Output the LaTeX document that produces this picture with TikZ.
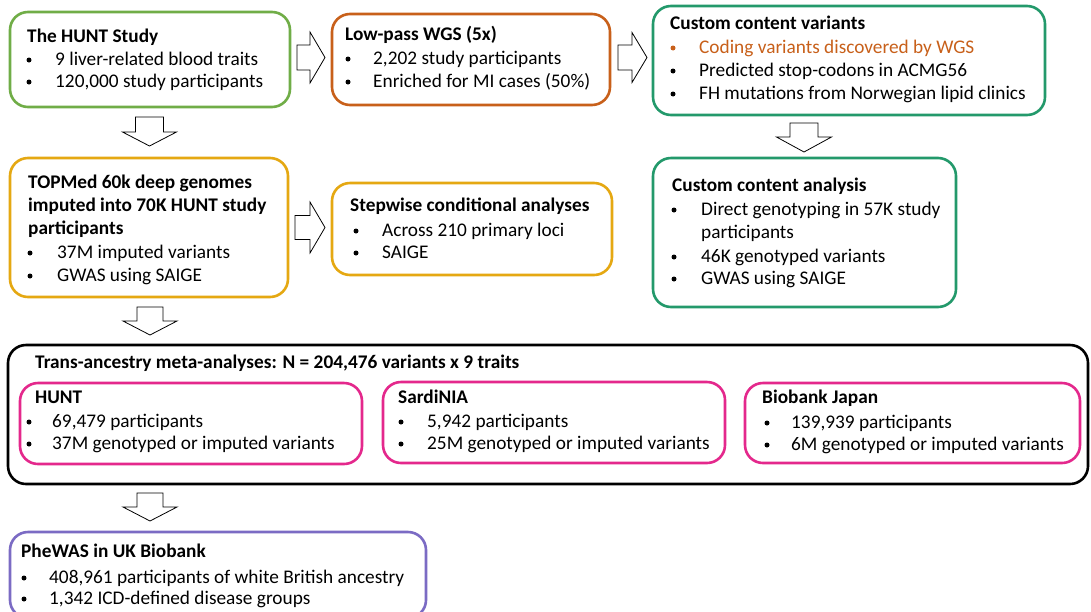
\documentclass[tikz,border=0pt]{standalone}
\usepackage{fontspec}
\setmainfont{Carlito}
\definecolor{cgreen}{HTML}{70AD47}
\definecolor{corange}{HTML}{C8601A}
\definecolor{cteal}{HTML}{23996B}
\definecolor{cyellow}{HTML}{E5A812}
\definecolor{cpink}{HTML}{E4288C}
\definecolor{cpurple}{HTML}{7B6BC4}
\newcommand{\fs}{\fontsize{19.3}{23}\selectfont}
\tikzset{
  bx/.style={draw=#1, line width=2.6pt, rounded corners=18pt, inner sep=0pt},
  tt/.style={anchor=base west, inner sep=0pt, font=\fs\bfseries},
  tx/.style={anchor=base west, inner sep=0pt, font=\fs},
  bu/.style={circle, fill=#1, inner sep=0pt, minimum size=5pt},
  bu/.default=black,
  blk/.style={draw=black, line width=0.8pt, fill=white, line join=miter}
}
% bullet item: name, bullet x, text x, baseline y, text
\newcommand{\bitem}[5]{%
  \node[bu] (#1-b) at (#2,{#4-5.5}) {};
  \node[tx] (#1) at (#3,#4) {#5};}
% right block arrow: left x, centre y, length, shaft half, head half, head length
\newcommand{\rarr}[6]{%
  \draw[blk] (#1,#2-#4) -- ({#1+#3-#6},#2-#4) -- ({#1+#3-#6},#2-#5) -- ({#1+#3},#2)
    -- ({#1+#3-#6},#2+#5) -- ({#1+#3-#6},#2+#4) -- (#1,#2+#4) -- cycle;}
% down block arrow: top y, centre x, length, shaft half, head half, head length
\newcommand{\darr}[6]{%
  \draw[blk] (#2-#4,#1) -- (#2-#4,{#1+#3-#6}) -- (#2-#5,{#1+#3-#6}) -- (#2,{#1+#3})
    -- (#2+#5,{#1+#3-#6}) -- (#2+#4,{#1+#3-#6}) -- (#2+#4,#1) -- cycle;}
\begin{document}
\begin{tikzpicture}[x=1pt,y=-1pt]
\clip (0,0) rectangle (1091,611);
\fill[white] (0,0) rectangle (1091,611);

% boxes
\node[bx=cgreen, minimum width=280pt, minimum height=95pt] (hunt) at (150,59.5) {};
\node[bx=corange, minimum width=278pt, minimum height=91pt] (wgs) at (471,59.5) {};
\node[bx=cteal, minimum width=392pt, minimum height=109pt] (ccv) at (849,60.5) {};
\node[bx=cyellow, minimum width=278pt, minimum height=139pt] (top) at (149,227.5) {};
\node[bx=cyellow, minimum width=280pt, minimum height=92pt] (step) at (472,229) {};
\node[bx=cteal, minimum width=303pt, minimum height=149pt] (cca) at (804.5,232.5) {};
\node[bx=black, minimum width=1080pt, minimum height=139pt] (meta) at (548,414.5) {};
\node[bx=cpink, minimum width=342pt, minimum height=81pt] (mhunt) at (191,423.5) {};
\node[bx=cpink, minimum width=342pt, minimum height=81pt] (msard) at (554,422.5) {};
\node[bx=cpink, minimum width=335pt, minimum height=80pt] (mbbj) at (912.5,423) {};
\node[bx=cpurple, minimum width=416pt, minimum height=86pt] (phe) at (218,575) {};

\begin{scope}[yshift=-1.5pt]
% box 1
\node[tt] (huntT) at (27,41) {The HUNT Study};
\bitem{hunt1}{29}{55}{64}{9 liver-related blood traits}
\bitem{hunt2}{29}{55}{86}{120,000 study participants}
% box 2
\node[tt] (wgsT) at (345,39) {Low-pass WGS (5x)};
\bitem{wgs1}{348}{373}{63}{2,202 study participants}
\bitem{wgs2}{348}{373}{86}{Enriched for MI cases (50\%)}
% box 3
\node[tt] (ccvT) at (670,28) {Custom content variants};
\node[bu=corange] (ccv1-b) at (673,46.5) {};
\node[tx, text=corange] (ccv1) at (699,52) {Coding variants discovered by WGS};
\bitem{ccv2}{673}{699}{75}{Predicted stop-codons in ACMG56}
\bitem{ccv3}{673}{699}{98}{FH mutations from Norwegian lipid clinics}
% box 4
\node[tt] (topT1) at (28,187) {TOPMed 60k deep genomes};
\node[tt] (topT2) at (28,210) {imputed into 70K HUNT study};
\node[tt] (topT3) at (28,233) {participants};
\bitem{top1}{30}{57}{257}{37M imputed variants}
\bitem{top2}{30}{57}{280}{GWAS using SAIGE}
% box 5
\node[tt] (stepT) at (350,210) {Stepwise conditional analyses};
\bitem{step1}{356}{382}{235}{Across 210 primary loci}
\bitem{step2}{356}{382}{257}{SAIGE}
% box 6
\node[tt] (ccaT) at (672,190) {Custom content analysis};
\bitem{cca1}{674}{701}{214}{Direct genotyping in 57K study}
\node[tx] (cca1b) at (701,237) {participants};
\bitem{cca2}{674}{701}{261}{46K genotyped variants}
\bitem{cca3}{674}{701}{283}{GWAS using SAIGE}
% box 7
\node[tt] (metaT) at (35,367) {Trans-ancestry meta-analyses: N = 204,476 variants x 9 traits};
\node[tt] (mhuntT) at (35,402) {HUNT};
\bitem{mhunt1}{29}{52}{426}{69,479 participants}
\bitem{mhunt2}{29}{52}{448}{37M genotyped or imputed variants}
\node[tt] (msardT) at (398,402) {SardiNIA};
\bitem{msard1}{401}{427}{426}{5,942 participants}
\bitem{msard2}{401}{427}{448}{25M genotyped or imputed variants}
\node[tt] (mbbjT) at (762,402) {Biobank Japan};
\bitem{mbbj1}{767}{791}{427}{139,939 participants}
\bitem{mbbj2}{767}{791}{449}{6M genotyped or imputed variants}
% box 8
\node[tt] (pheT) at (21,556) {PheWAS in UK Biobank};
\bitem{phe1}{24}{49}{582}{408,961 participants of white British ancestry}
\bitem{phe2}{24}{49}{603}{1,342 ICD-defined disease groups}
\end{scope}

% block arrows
\rarr{297}{57.5}{28}{12.5}{25.5}{15}
\rarr{618}{57.5}{29}{12.5}{25}{15}
\rarr{295}{227.5}{30}{12}{25.5}{15}
\darr{117}{149.5}{29}{14}{27}{14}
\darr{123}{804}{29}{14}{27.5}{15}
\darr{307}{150}{28}{13}{27}{14}
\darr{493}{150}{28}{13}{27}{14}
\end{tikzpicture}
\end{document}
